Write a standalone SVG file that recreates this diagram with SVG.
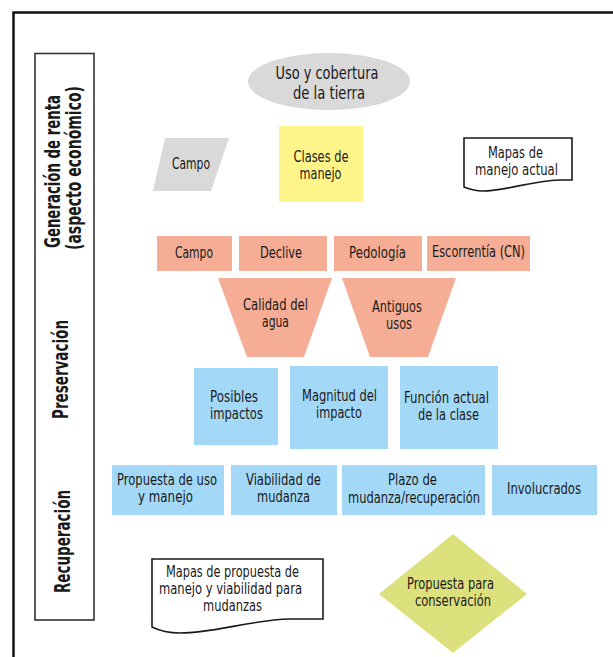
<svg xmlns="http://www.w3.org/2000/svg" width="613" height="657" viewBox="0 0 613 657">
<style>
text{font-family:"Liberation Sans Narrow","DejaVu Sans Condensed","Roboto",sans-serif;fill:#1a1a1a;text-anchor:middle;font-size:15px;}
.big{font-size:17px;}
.side{font-size:21px;font-weight:bold;}
.gray{fill:#d9d9d9;}
.yel{fill:#fff48a;}
.sal{fill:#f5ae95;}
.blu{fill:#a3d9f7;}
.grn{fill:#dce07d;}
.doc{fill:#ffffff;stroke:#1a1a1a;stroke-width:1.6;}
</style>
<rect x="0" y="0" width="613" height="657" fill="#ffffff"/>
<rect id="frame" x="13.5" y="12.5" width="640" height="680" fill="none" stroke="#111" stroke-width="2.5"/>
<g id="lanes">
<rect x="35" y="53.5" width="59" height="566.5" fill="#fff" stroke="#333" stroke-width="1.6"/>
<text class="side" transform="translate(60,171.5) rotate(-90)" textLength="153" lengthAdjust="spacingAndGlyphs">Generación de renta</text>
<text class="side" transform="translate(81,168) rotate(-90)" textLength="164" lengthAdjust="spacingAndGlyphs">(aspecto económico)</text>
<text class="side" transform="translate(68,369.5) rotate(-90)" textLength="99" lengthAdjust="spacingAndGlyphs">Preservación</text>
<text class="side" transform="translate(69.5,541.5) rotate(-90)" textLength="103" lengthAdjust="spacingAndGlyphs">Recuperación</text>
</g>
<g id="connectors"></g>
<g id="uso">
<ellipse class="gray" cx="329" cy="81.5" rx="81" ry="28.5"/>
<text class="big" x="327" y="79" textLength="103" lengthAdjust="spacingAndGlyphs">Uso y cobertura</text>
<text class="big" x="329" y="99" textLength="72" lengthAdjust="spacingAndGlyphs">de la tierra</text>
</g>
<g id="campo-input">
<polygon class="gray" points="165,138 229,138 211,191 153,191"/>
<text x="191" y="169" textLength="38" lengthAdjust="spacingAndGlyphs">Campo</text>
</g>
<g id="clases">
<rect class="yel" x="279" y="126" width="84" height="76"/>
<text x="321" y="162" textLength="55" lengthAdjust="spacingAndGlyphs">Clases de</text>
<text x="320.5" y="179" textLength="42" lengthAdjust="spacingAndGlyphs">manejo</text>
</g>
<g id="mapas-actual">
<path class="doc" d="M464,138 H572 V180 L560,180 C530,181 505,191 483,191 C475,191 469,189 464,187 Z"/>
<text x="515.5" y="158" textLength="55" lengthAdjust="spacingAndGlyphs">Mapas de</text>
<text x="516.5" y="175" textLength="83" lengthAdjust="spacingAndGlyphs">manejo actual</text>
</g>
<g id="campo">
<rect class="sal" x="157" y="236" width="75" height="35"/>
<text x="194" y="258" textLength="38" lengthAdjust="spacingAndGlyphs">Campo</text>
</g>
<g id="declive">
<rect class="sal" x="239" y="236" width="88" height="35"/>
<text x="281" y="258" textLength="42" lengthAdjust="spacingAndGlyphs">Declive</text>
</g>
<g id="pedologia">
<rect class="sal" x="334" y="236" width="88" height="35"/>
<text x="377.5" y="258" textLength="57" lengthAdjust="spacingAndGlyphs">Pedología</text>
</g>
<g id="escorrentia">
<rect class="sal" x="427" y="236" width="103" height="35"/>
<text x="478.5" y="257" textLength="93" lengthAdjust="spacingAndGlyphs">Escorrentía (CN)</text>
</g>
<g id="calidad">
<polygon class="sal" points="218,278 332,278 304,357 247,357"/>
<text x="275.5" y="310" textLength="65" lengthAdjust="spacingAndGlyphs">Calidad del</text>
<text x="275.5" y="327" textLength="27" lengthAdjust="spacingAndGlyphs">agua</text>
</g>
<g id="antiguos">
<polygon class="sal" points="342,278 456,278 428,357 370,357"/>
<text x="397" y="312" textLength="50" lengthAdjust="spacingAndGlyphs">Antiguos</text>
<text x="399" y="329" textLength="26" lengthAdjust="spacingAndGlyphs">usos</text>
</g>
<g id="posibles">
<rect class="blu" x="194" y="368" width="84" height="77"/>
<text x="234" y="402" textLength="48" lengthAdjust="spacingAndGlyphs">Posibles</text>
<text x="236.5" y="419" textLength="53" lengthAdjust="spacingAndGlyphs">impactos</text>
</g>
<g id="magnitud">
<rect class="blu" x="290" y="366" width="98" height="83"/>
<text x="339.5" y="401" textLength="75" lengthAdjust="spacingAndGlyphs">Magnitud del</text>
<text x="339" y="418" textLength="46" lengthAdjust="spacingAndGlyphs">impacto</text>
</g>
<g id="funcion">
<rect class="blu" x="400" y="366" width="98" height="83"/>
<text x="446.5" y="403" textLength="85" lengthAdjust="spacingAndGlyphs">Función actual</text>
<text x="448.5" y="420" textLength="61" lengthAdjust="spacingAndGlyphs">de la clase</text>
</g>
<g id="propuesta-uso">
<rect class="blu" x="112" y="465" width="112" height="50"/>
<text x="167" y="485" textLength="100" lengthAdjust="spacingAndGlyphs">Propuesta de uso</text>
<text x="165.5" y="502" textLength="55" lengthAdjust="spacingAndGlyphs">y manejo</text>
</g>
<g id="viabilidad">
<rect class="blu" x="231" y="465" width="106" height="50"/>
<text x="283.5" y="485" textLength="75" lengthAdjust="spacingAndGlyphs">Viabilidad de</text>
<text x="283.5" y="502" textLength="53" lengthAdjust="spacingAndGlyphs">mudanza</text>
</g>
<g id="plazo">
<rect class="blu" x="342" y="465" width="143" height="50"/>
<text x="412.5" y="485" textLength="49" lengthAdjust="spacingAndGlyphs">Plazo de</text>
<text x="414" y="503" textLength="132" lengthAdjust="spacingAndGlyphs">mudanza/recuperación</text>
</g>
<g id="involucrados">
<rect class="blu" x="492" y="465" width="105" height="50"/>
<text x="544" y="494" textLength="74" lengthAdjust="spacingAndGlyphs">Involucrados</text>
</g>
<g id="mapas-propuesta">
<path class="doc" d="M152,559 H323 V619 L290,619 C250,620 215,633 180,633 C168,633 158,630 152,627 Z"/>
<text x="232.5" y="577" textLength="133" lengthAdjust="spacingAndGlyphs">Mapas de propuesta de</text>
<text x="230.5" y="594" textLength="143" lengthAdjust="spacingAndGlyphs">manejo y viabilidad para</text>
<text x="232.5" y="611" textLength="59" lengthAdjust="spacingAndGlyphs">mudanzas</text>
</g>
<g id="propuesta-conservacion">
<polygon class="grn" points="453,534 527,594 453,653 379,594"/>
<text x="450.5" y="589" textLength="87" lengthAdjust="spacingAndGlyphs">Propuesta para</text>
<text x="453" y="606" textLength="76" lengthAdjust="spacingAndGlyphs">conservación</text>
</g>
</svg>
